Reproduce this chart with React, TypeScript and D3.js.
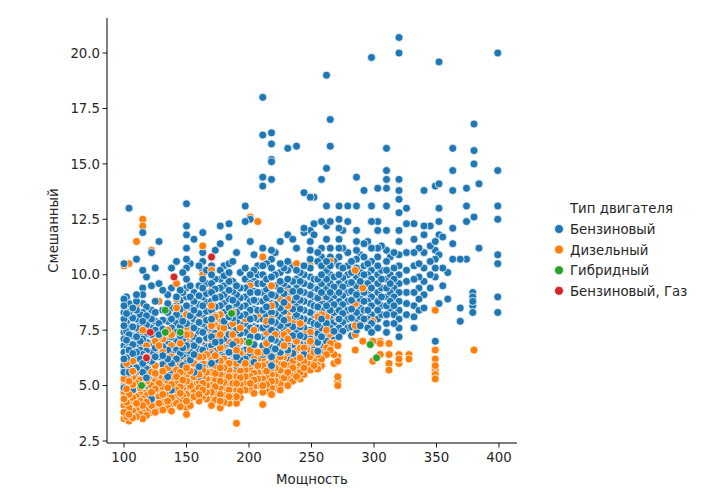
import React from 'react';
import * as d3 from 'd3';

// [мощность, [смешанный расход ...]]
const petrolCols: [number, number[]][] = [
  [100, [4.5, 4.9, 5.3, 5.6, 5.9, 6.2, 6.5, 6.8, 7.1, 7.4, 7.7, 8.0, 8.3, 8.6, 8.9, 10.5]],
  [102, [5.45, 5.85, 6.25, 6.65, 7.05, 7.45, 7.85, 8.25, 9.0]],
  [104, [5.6, 5.9, 6.3, 6.6, 6.9, 7.3, 7.6, 8.0, 8.3, 8.7, 13.0]],
  [107, [4.8, 5.2, 5.65, 6.05, 6.45, 6.85, 7.25, 7.65, 8.05, 8.5]],
  [110, [5.0, 5.4, 5.8, 6.2, 6.5, 6.9, 7.2, 7.6, 8.0, 8.4, 8.8, 9.1, 10.7]],
  [113, [5.8, 6.2, 6.6, 7.0, 7.4, 7.8, 8.2]],
  [115, [5.6, 6.0, 6.4, 6.8, 7.1, 7.5, 7.9, 8.3, 8.7, 9.1, 9.4, 10.2, 11.9]],
  [118, [5.0, 5.35, 5.75, 6.15, 6.55, 6.95, 7.35, 7.75, 8.15, 8.55, 9.9]],
  [122, [4.4, 5.7, 6.1, 6.5, 6.9, 7.3, 7.6, 8.0, 8.4, 9.5, 11.0]],
  [125, [5.1, 5.5, 5.9, 6.3, 6.7, 7.1, 7.5, 7.9, 8.3, 8.8, 10.3]],
  [128, [6.3, 6.8, 7.3, 7.8, 9.6, 11.5]],
  [131, [5.95, 6.35, 6.75, 7.15, 7.55, 7.95, 8.4, 9.3]],
  [135, [5.0, 5.4, 5.8, 6.2, 6.6, 7.0, 7.4, 7.9, 8.3, 8.7, 9.1]],
  [138, [4.8, 5.6, 6.0, 6.4, 6.8, 7.2, 7.6, 8.0, 8.5, 9.4, 10.3]],
  [142, [5.8, 6.2, 6.6, 7.0, 7.4, 7.8, 8.2, 8.6, 9.0, 10.6]],
  [145, [6.05, 6.45, 6.85, 7.25, 7.65, 8.05, 8.45, 8.85, 9.3]],
  [147, [5.1, 5.5, 5.9, 6.3, 6.7, 7.1, 7.5, 7.9, 8.4, 9.2, 10.1]],
  [150, [5.6, 6.0, 6.4, 6.8, 7.2, 7.5, 7.8, 8.2, 8.6, 9.0, 9.4, 9.8, 10.3, 10.7, 11.2, 11.8, 12.2, 13.2]],
  [153, [6.15, 6.55, 6.95, 7.35, 7.75, 8.15, 8.55, 9.0, 9.5, 10.5]],
  [156, [5.6, 6.0, 6.4, 6.8, 7.2, 7.6, 8.0, 8.4, 8.8, 9.2, 11.6]],
  [160, [5.4, 5.85, 6.25, 6.65, 7.05, 7.45, 7.85, 8.25, 8.65, 9.05, 9.5, 10.4]],
  [163, [5.8, 6.2, 6.6, 7.0, 7.4, 7.8, 8.2, 8.6, 9.0, 9.4, 9.8, 10.2, 10.6, 11.0, 11.9]],
  [166, [6.35, 6.75, 7.15, 7.55, 7.95, 8.35, 8.75, 9.15, 9.6, 10.2]],
  [170, [5.6, 6.0, 6.4, 6.8, 7.2, 7.6, 8.0, 8.4, 8.8, 9.2, 9.6, 10.0, 10.4, 10.8]],
  [173, [6.15, 6.55, 6.95, 7.35, 7.75, 8.15, 8.55, 8.95, 9.35, 9.8, 11.1]],
  [177, [6.6, 7.0, 7.4, 7.8, 8.2, 8.6, 9.0, 9.4, 9.8, 10.2, 11.4, 12.2]],
  [180, [6.3, 6.7, 7.1, 7.5, 7.9, 8.3, 8.7, 9.1, 9.5, 9.95, 10.4]],
  [184, [6.1, 6.5, 6.9, 7.3, 7.7, 8.1, 8.5, 8.9, 9.3, 9.7, 10.1, 10.5, 11.7, 12.3]],
  [187, [6.45, 6.85, 7.25, 7.65, 8.05, 8.45, 8.85, 9.25, 9.7, 10.6]],
  [190, [5.9, 6.3, 6.7, 7.1, 7.5, 7.9, 8.3, 8.7, 9.1, 9.5, 11.0]],
  [193, [6.15, 6.55, 6.95, 7.35, 7.75, 8.15, 8.55, 8.95, 9.4, 10.1]],
  [197, [6.2, 6.6, 7.0, 7.4, 7.8, 8.2, 8.6, 9.0, 9.4, 9.8, 10.3, 12.4, 13.1]],
  [201, [6.4, 6.8, 7.2, 7.6, 8.0, 8.4, 8.8, 9.2, 9.6, 10.0, 11.5, 12.5]],
  [204, [6.05, 6.45, 6.85, 7.25, 7.65, 8.05, 8.45, 8.85, 9.25, 9.7, 10.2, 10.9]],
  [207, [7.2, 7.6, 8.0, 8.4, 8.8, 9.2, 9.6, 10.0, 10.4]],
  [211, [6.0, 6.4, 6.8, 7.2, 7.6, 8.0, 8.4, 8.8, 9.2, 9.6, 10.0, 10.4, 10.8, 11.2, 14.0, 14.4, 16.3, 18.0]],
  [214, [6.55, 6.95, 7.35, 7.75, 8.15, 8.55, 8.95, 9.35, 9.8, 10.5]],
  [218, [5.9, 6.3, 6.7, 7.1, 7.5, 7.9, 8.3, 8.7, 9.1, 9.5, 9.9, 10.3, 10.7, 11.1, 14.3, 15.1, 15.2, 15.9, 16.4]],
  [221, [6.25, 6.65, 7.05, 7.45, 7.85, 8.25, 8.65, 9.05, 9.5, 10.0, 11.0]],
  [225, [6.5, 6.9, 7.3, 7.7, 8.1, 8.5, 8.9, 9.3, 9.7, 10.1, 10.5, 11.5]],
  [228, [6.75, 7.15, 7.55, 7.95, 8.35, 8.75, 9.15, 9.6, 10.3]],
  [231, [6.2, 6.6, 7.0, 7.4, 7.8, 8.2, 8.6, 9.0, 9.4, 9.8, 10.2, 10.6, 11.8, 15.7]],
  [235, [6.45, 6.85, 7.25, 7.65, 8.05, 8.45, 8.85, 9.25, 9.7, 10.4, 11.6]],
  [238, [6.6, 7.0, 7.4, 7.8, 8.2, 8.6, 9.0, 9.4, 9.8, 10.2, 11.2, 15.8]],
  [241, [6.85, 7.25, 7.65, 8.05, 8.45, 8.85, 9.25, 9.7, 10.1]],
  [244, [6.4, 6.8, 7.2, 7.6, 8.0, 8.4, 8.8, 9.2, 9.6, 10.0, 10.4, 11.9, 12.1, 13.7]],
  [249, [5.9, 6.3, 6.7, 7.1, 7.5, 7.9, 8.3, 8.7, 9.1, 9.5, 9.9, 10.3, 10.7, 11.1, 11.5, 12.0, 13.5]],
  [252, [6.2, 6.6, 7.0, 7.4, 7.8, 8.2, 8.6, 9.0, 9.4, 9.8, 11.8, 12.3, 13.5]],
  [255, [6.55, 6.95, 7.35, 7.75, 8.15, 8.55, 8.95, 9.35, 9.8, 10.6, 11.0]],
  [258, [6.4, 6.8, 7.2, 7.6, 8.0, 8.4, 8.8, 9.2, 9.6, 10.0, 10.4, 10.8, 11.2, 12.4, 14.3]],
  [262, [7.0, 7.4, 7.8, 8.2, 8.6, 9.0, 9.4, 9.8, 10.2, 10.6, 11.6, 12.2, 13.1, 14.8, 19.0]],
  [265, [6.8, 7.2, 7.6, 8.0, 8.4, 8.8, 9.2, 9.6, 10.0, 10.4, 10.8, 11.2, 12.4, 15.8, 17.0]],
  [268, [7.05, 7.45, 7.85, 8.25, 8.65, 9.05, 9.45, 9.9, 10.6]],
  [272, [7.2, 7.6, 8.0, 8.4, 8.8, 9.2, 9.6, 10.0, 10.4, 10.8, 11.2, 11.6, 12.1, 12.5, 13.1]],
  [275, [7.45, 7.85, 8.25, 8.65, 9.05, 9.45, 9.85, 10.3, 11.2, 12.0]],
  [279, [7.6, 8.0, 8.4, 8.8, 9.2, 9.6, 10.0, 10.4, 11.0, 12.4, 13.1]],
  [282, [7.25, 7.65, 8.05, 8.45, 8.85, 9.25, 9.65, 10.1, 10.6]],
  [286, [7.5, 7.9, 8.3, 8.7, 9.1, 9.5, 9.9, 10.3, 10.7, 11.1, 11.5, 12.0, 13.1, 14.4]],
  [289, [7.7, 8.1, 8.5, 8.9, 9.3, 9.7, 10.1, 10.9]],
  [292, [8.0, 8.4, 8.8, 9.2, 9.6, 10.0, 10.4, 10.8, 11.4, 13.8]],
  [295, [7.6, 8.0, 8.4, 8.8, 9.2, 9.6, 10.0, 10.5, 11.5]],
  [298, [7.4, 7.8, 8.2, 8.6, 9.0, 9.4, 9.8, 10.2, 10.6, 11.2, 12.4, 13.1, 19.8]],
  [303, [7.6, 8.0, 8.4, 8.8, 9.2, 9.6, 10.0, 10.4, 10.8, 11.2, 12.0, 12.4, 13.9]],
  [306, [8.2, 8.6, 9.0, 9.4, 9.8, 10.2, 11.3]],
  [310, [7.4, 7.8, 8.2, 8.6, 9.0, 9.4, 9.8, 10.2, 10.6, 11.1, 12.0, 13.1, 13.9, 14.3, 14.7, 15.7]],
  [313, [8.4, 8.8, 9.2, 9.6, 10.0, 10.8]],
  [316, [7.8, 8.2, 8.6, 9.0, 9.4, 9.8, 10.3, 11.0]],
  [320, [7.2, 7.6, 8.0, 8.4, 8.8, 9.2, 9.6, 10.0, 10.4, 10.9, 11.5, 12.0, 12.8, 13.4, 13.8, 14.3, 20.0, 20.7]],
  [326, [8.2, 8.7, 9.2, 9.7, 10.2, 11.0, 12.3, 13.0]],
  [332, [7.6, 8.1, 8.6, 9.2, 9.8, 10.4, 11.0, 11.6, 12.3]],
  [336, [8.4, 8.9, 9.4, 9.9, 10.5, 11.2]],
  [340, [8.5, 9.1, 9.7, 10.3, 11.0, 11.8, 12.2, 13.8]],
  [345, [9.4, 10.0, 10.6, 11.3, 12.2]],
  [349, [7.0, 9.9, 10.3, 10.7, 11.1, 11.5, 14.0]],
  [352, [8.7, 10.9, 11.8, 12.4, 13.0, 14.1, 19.6]],
  [355, [9.5, 10.3, 11.7]],
  [359, [8.9, 10.1]],
  [363, [10.7, 11.4, 12.1, 13.8, 14.7, 15.7]],
  [369, [7.9, 8.5, 10.7]],
  [374, [10.7, 12.4, 13.1, 13.9]],
  [379, [8.3, 8.6, 8.8, 9.0, 9.2]],
  [380, [12.6, 15.0, 15.6, 16.8]],
  [384, [11.2, 14.1]],
  [399, [8.3, 9.0, 10.5, 10.9, 12.5, 13.1, 14.7, 20.0]],
];

const dieselCols: [number, number[]][] = [
  [100, [3.5, 3.8, 4.1, 4.4, 4.7, 5.0, 5.3, 5.7, 10.4]],
  [102, [3.6, 3.95, 4.25, 4.55, 4.85, 5.15, 5.45, 6.0]],
  [104, [3.4, 3.7, 4.0, 4.3, 4.6, 4.9, 5.2, 5.5, 5.8, 6.4, 10.5]],
  [107, [3.55, 3.85, 4.15, 4.45, 4.75, 5.05, 5.35, 5.65, 6.1, 6.6]],
  [110, [3.6, 3.9, 4.2, 4.5, 4.8, 5.1, 8.6, 11.5]],
  [113, [3.7, 4.0, 4.3, 4.6, 4.9, 5.25, 5.6]],
  [115, [3.5, 3.8, 4.1, 4.4, 4.7, 5.0, 5.3, 7.5, 12.2, 12.5]],
  [118, [3.65, 3.95, 4.25, 4.55, 4.85, 5.2, 5.6, 6.3, 6.8]],
  [122, [3.8, 4.1, 4.4, 4.7, 5.0, 5.3, 5.6, 5.9, 6.2, 11.1]],
  [125, [3.8, 4.15, 4.5, 4.85, 5.2, 5.55, 5.9, 6.4, 7.0]],
  [128, [3.9, 4.2, 4.5, 4.8, 5.1, 5.4, 6.8, 7.2, 8.8]],
  [131, [3.9, 4.25, 4.6, 4.95, 5.3, 5.65, 6.0, 6.5, 7.1]],
  [135, [4.0, 4.3, 4.6, 4.9, 5.2, 5.5, 5.8, 7.2, 7.5]],
  [138, [3.85, 4.15, 4.45, 4.75, 5.05, 5.35, 5.7, 6.3, 6.8, 7.3]],
  [142, [4.2, 4.5, 4.8, 5.1, 5.4, 5.7, 8.5, 8.9, 9.6]],
  [145, [4.05, 4.35, 4.65, 4.95, 5.25, 5.6, 6.0, 6.9, 7.5]],
  [147, [4.2, 4.55, 4.9, 5.25, 5.6, 6.2]],
  [150, [3.7, 4.0, 4.3, 4.6, 4.9, 5.2, 5.5, 5.8, 6.1, 6.4, 6.7, 7.0, 7.3, 7.6, 7.9, 8.2, 8.5]],
  [153, [4.1, 4.4, 4.7, 5.0, 5.3, 5.65, 6.1, 6.7, 7.3, 8.0]],
  [156, [4.5, 4.8, 5.1, 5.4, 5.7, 6.0]],
  [160, [4.3, 4.6, 4.9, 5.2, 5.5, 5.85, 6.3, 7.0, 7.4, 7.9]],
  [163, [4.5, 4.8, 5.1, 5.4, 5.7, 6.0, 6.3, 6.6, 10.0, 11.3]],
  [166, [4.4, 4.7, 5.0, 5.3, 5.6, 5.95, 6.4, 7.1, 7.6]],
  [170, [4.1, 4.4, 4.7, 5.0, 5.3, 5.6, 5.9, 6.2, 6.5, 6.8, 7.1, 7.4, 7.7, 8.0, 8.3, 8.6, 9.3, 10.2]],
  [173, [4.35, 4.65, 4.95, 5.25, 5.55, 5.9, 6.35, 7.2, 7.7, 8.1]],
  [177, [4.0, 4.3, 4.6, 4.9, 5.2, 5.5, 5.8, 6.1, 6.4, 6.7, 7.0, 7.3, 7.6, 7.9, 8.2, 9.0]],
  [180, [4.25, 4.55, 4.85, 5.15, 5.45, 5.8, 6.2, 6.8, 7.6]],
  [184, [4.2, 4.5, 4.8, 5.1, 5.4, 5.7, 6.0, 7.0, 9.8]],
  [187, [4.5, 4.8, 5.1, 5.4, 5.7, 6.05, 6.5, 7.3, 7.8, 8.3]],
  [190, [3.3, 4.2, 4.5, 4.8, 5.1, 5.4, 5.7, 6.0, 6.3, 6.6, 7.0]],
  [193, [4.45, 4.75, 5.05, 5.35, 5.65, 6.0, 6.45, 7.0, 7.6]],
  [197, [4.8, 5.1, 5.4, 5.7, 6.0, 6.3, 6.6, 8.0]],
  [201, [4.8, 5.1, 5.4, 5.7, 6.0, 6.3, 6.6, 9.5, 12.6]],
  [204, [4.65, 4.95, 5.25, 5.55, 5.85, 6.2, 6.7, 7.5, 8.1]],
  [207, [5.0, 5.3, 5.6, 5.9, 6.2, 6.5, 8.2, 12.4]],
  [211, [4.15, 4.7, 5.0, 5.3, 5.6, 5.9, 6.2, 6.5, 10.8]],
  [214, [4.75, 5.05, 5.35, 5.65, 5.95, 6.35, 6.9, 7.4, 7.9]],
  [218, [4.6, 4.9, 5.2, 5.5, 5.8, 6.1, 6.4, 8.0, 8.3, 8.6, 9.5]],
  [221, [4.9, 5.2, 5.5, 5.8, 6.15, 6.6, 7.3, 7.8]],
  [225, [4.8, 5.1, 5.4, 5.7, 6.0, 6.3, 8.9]],
  [228, [5.05, 5.35, 5.65, 5.95, 6.3, 6.8, 7.3, 7.9]],
  [231, [5.0, 5.3, 5.6, 5.9, 6.2, 6.5, 6.8, 7.1, 7.4, 7.7, 8.0, 8.3, 8.6, 8.9, 9.2]],
  [235, [5.2, 5.5, 5.8, 6.1, 6.5, 7.1, 7.8]],
  [238, [5.4, 5.7, 6.0, 6.3, 6.6, 7.0, 10.5]],
  [241, [5.3, 5.6, 5.9, 6.25, 6.7, 7.2, 7.8]],
  [244, [5.5, 5.8, 6.1, 6.4, 6.7, 7.0, 7.3, 7.6, 7.9]],
  [249, [5.7, 6.0, 6.3, 6.6, 7.0, 7.4, 10.4]],
  [252, [5.9, 6.2, 6.5, 6.8, 7.1]],
  [255, [5.75, 6.05, 6.4, 6.9, 7.6, 8.1]],
  [258, [5.9, 6.2, 6.5, 6.8, 8.2, 9.0]],
  [262, [6.4, 6.7, 7.0, 7.5, 8.1]],
  [265, [6.6, 6.9, 7.2, 10.6]],
  [268, [6.0, 6.4, 6.9, 7.4]],
  [271, [5.0, 5.2, 5.4, 6.1, 6.3, 6.8, 7.5, 8.0]],
  [279, [7.6, 8.3]],
  [285, [6.6, 7.3, 7.7, 8.7, 10.2]],
  [291, [7.0, 7.9, 9.4]],
  [299, [6.1, 7.0, 7.9]],
  [305, [6.4, 6.9, 7.0]],
  [312, [5.7, 6.0, 6.4, 6.9]],
  [320, [6.0, 6.2, 6.4, 7.2]],
  [328, [6.2, 6.4]],
  [349, [5.3, 5.5, 5.7, 5.9, 6.2, 6.6, 8.4]],
  [380, [6.6]],
];

const hybridPts: [number, number][] = [
  [114, 5.0], [133, 8.4], [133, 7.4], [145, 7.4], [186, 8.25], [200, 6.95], [297, 6.85], [302, 6.25],
];

const gasPts: [number, number][] = [
  [118, 6.25], [121, 7.4], [140, 9.9], [170, 10.8],
];

const fuelTypes = ['Бензиновый', 'Дизельный', 'Гибридный', 'Бензиновый, Газ'];
const fuelColors = ['#1f77b4', '#ff7f0e', '#2ca02c', '#d62728'];
const xTicks = [100, 150, 200, 250, 300, 350, 400];
const yTicks = [2.5, 5.0, 7.5, 10.0, 12.5, 15.0, 17.5, 20.0];

type Pt = { p: number; v: number; t: number };

const buildPoints = (): Pt[] => {
  const rows: Pt[] = [];
  petrolCols.forEach(([p, vs]) => vs.forEach(v => rows.push({ p, v, t: 0 })));
  dieselCols.forEach(([p, vs]) => vs.forEach(v => rows.push({ p, v, t: 1 })));
  // mix the drawing order like rows of a table, then the rare types on top
  const mixed = rows
    .map((d, i) => ({ d, k: (i * 7919) % 1723 }))
    .sort((a, b) => a.k - b.k)
    .map(e => e.d);
  hybridPts.forEach(([p, v]) => mixed.push({ p, v, t: 2 }));
  gasPts.forEach(([p, v]) => mixed.push({ p, v, t: 3 }));
  return mixed;
};

const W = 705;
const H = 501;
const margin = { top: 18, right: 188, bottom: 58, left: 107 };
const font = 'DejaVu Sans, sans-serif';

export default function App() {
  const x = d3.scaleLinear().domain([86.4, 414.4]).range([margin.left, W - margin.right]);
  const y = d3.scaleLinear().domain([2.41, 21.58]).range([H - margin.bottom, margin.top]);
  const pts = buildPoints();
  const x0 = margin.left;
  const y0 = H - margin.bottom;

  return (
    <svg width={W} height={H} style={{ position: 'absolute', left: 0, top: 0, background: '#fff' }} fontFamily={font}>
      <g>
        {pts.map((d, i) => (
          <circle key={i} cx={x(d.p)} cy={y(d.v)} r={4} fill={fuelColors[d.t]} stroke="#fff" strokeWidth={0.75} />
        ))}
      </g>
      {/* axes */}
      <line x1={x0} x2={x0} y1={margin.top} y2={y0} stroke="#000" strokeWidth={1} />
      <line x1={x0} x2={W - margin.right} y1={y0} y2={y0} stroke="#000" strokeWidth={1} />
      {xTicks.map(t => (
        <g key={t} transform={`translate(${x(t)},${y0})`}>
          <line y2={4.5} stroke="#000" strokeWidth={0.9} />
          <text y={19} textAnchor="middle" fontSize={13.3} fill="#262626">{t}</text>
        </g>
      ))}
      {yTicks.map(t => (
        <g key={t} transform={`translate(${x0},${y(t)})`}>
          <line x2={-4.5} stroke="#000" strokeWidth={0.9} />
          <text x={-7} dy="0.35em" textAnchor="end" fontSize={13.3} fill="#262626">{t.toFixed(1)}</text>
        </g>
      ))}
      <text x={(x0 + W - margin.right) / 2} y={484} textAnchor="middle" fontSize={13.3} fill="#262626">Мощность</text>
      <text transform={`translate(58,${(margin.top + y0) / 2}) rotate(-90)`} textAnchor="middle" fontSize={13.3} fill="#262626">Смешанный</text>
      {/* legend */}
      <g transform="translate(559,208)">
        <text x={11} y={5} fontSize={13.3} fill="#262626">Тип двигателя</text>
        {fuelTypes.map((f, i) => (
          <g key={f} transform={`translate(0,${21 + i * 20.6})`}>
            <circle r={4.5} fill={fuelColors[i]} stroke="#fff" strokeWidth={0.75} />
            <text x={11} y={5} fontSize={13.3} fill="#262626">{f}</text>
          </g>
        ))}
      </g>
    </svg>
  );
}
